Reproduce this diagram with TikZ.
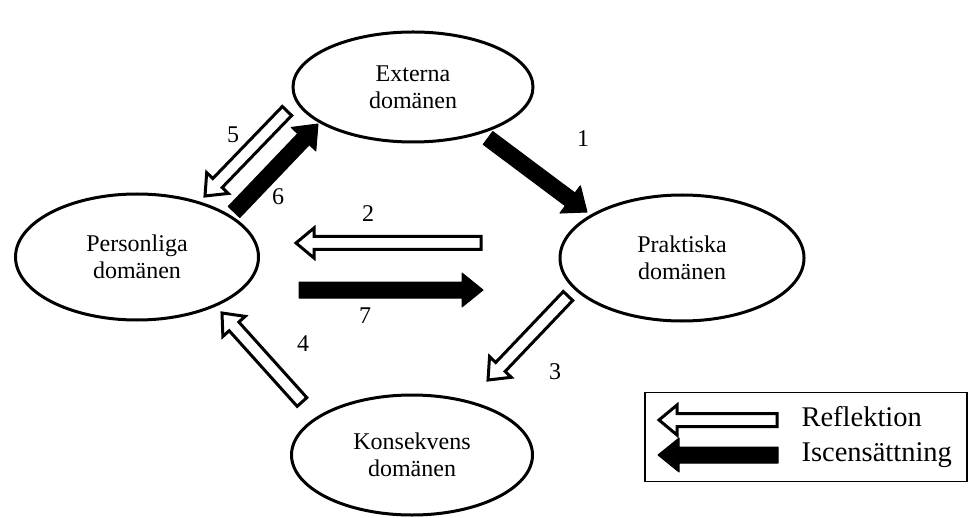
\documentclass[tikz,border=0pt]{standalone}
\usepackage{fontspec}
\setmainfont{Liberation Serif}
\usetikzlibrary{calc,shapes.geometric}
\tikzset{
  domainbox/.style={ellipse,draw,line width=3pt,inner sep=0pt,align=center,
    font=\fontsize{24}{27}\selectfont},
  numlabel/.style={font=\fontsize{24}{27}\selectfont},
  whitearrow/.style={draw,fill=white,line width=3pt,line join=miter},
  blackarrow/.style={draw,fill=black,line width=1pt,line join=round},
  legtext/.style={anchor=base west,font=\fontsize{28.5}{31}\selectfont},
}
% #1 style, #2 tail coord, #3 tip coord, #4 shaft half width, #5 head half width, #6 head length
\newcommand\fatarrow[6]{%
  \coordinate (hb) at ($(#3)!#6!(#2)$);
  \path[#1] ($(#2)!#4!90:(#3)$) -- ($(hb)!#4!-90:(#2)$) -- ($(hb)!#5!-90:(#2)$)
    -- (#3) -- ($(hb)!#5!90:(#2)$) -- ($(hb)!#4!90:(#2)$)
    -- ($(#2)!#4!-90:(#3)$) -- cycle;
}
\newcommand\warrow[2]{\fatarrow{whitearrow}{#1}{#2}{6.5pt}{15pt}{18pt}}
\newcommand\barrow[2]{\fatarrow{blackarrow}{#1}{#2}{8pt}{17pt}{21pt}}
\begin{document}
\begin{tikzpicture}[x=1pt,y=-1pt]
\useasboundingbox (0,0) rectangle (973,518);
% domains
\node[domainbox,minimum width=240pt,minimum height=110pt] (ext) at (413,87) {Externa\\domänen};
\node[domainbox,minimum width=243pt,minimum height=126pt] (pers) at (137,257) {Personliga\\domänen};
\node[domainbox,minimum width=244pt,minimum height=126pt] (prak) at (682,258) {Praktiska\\domänen};
\node[domainbox,minimum width=241pt,minimum height=120pt] (kons) at (412,455) {Konsekvens\\domänen};
% arrow end points
\coordinate (a1t) at (488,138); \coordinate (a1h) at (587,212);
\coordinate (a2t) at (481,243); \coordinate (a2h) at (296,243);
\coordinate (a7t) at (299,290); \coordinate (a7h) at (483,290);
\coordinate (a3t) at (568,296); \coordinate (a3h) at (488,380);
\coordinate (a4t) at (302,402); \coordinate (a4h) at (222,313);
\coordinate (a5t) at (287,111); \coordinate (a5h) at (205,196);
\coordinate (a6t) at (234,212); \coordinate (a6h) at (318,124);
\barrow{a1t}{a1h}
\warrow{a2t}{a2h}
\barrow{a7t}{a7h}
\warrow{a3t}{a3h}
\warrow{a4t}{a4h}
\warrow{a5t}{a5h}
\barrow{a6t}{a6h}
% numbers
\node[numlabel] (n1) at (583,139) {1};
\node[numlabel] (n2) at (368,214) {2};
\node[numlabel] (n3) at (555,372) {3};
\node[numlabel] (n4) at (303,344) {4};
\node[numlabel] (n5) at (233,135) {5};
\node[numlabel] (n6) at (278,197) {6};
\node[numlabel] (n7) at (365,316) {7};
% legend
\node[draw,line width=1.5pt,minimum width=322pt,minimum height=89pt,inner sep=0pt] (leg) at (806,437) {};
\coordinate (l1t) at (777,420); \coordinate (l1h) at (659,420);
\coordinate (l2t) at (778,455); \coordinate (l2h) at (658,455);
\warrow{l1t}{l1h}
\barrow{l2t}{l2h}
\node[legtext] (lr) at (798,426) {Reflektion};
\node[legtext] (li) at (798,461) {Iscensättning};
\end{tikzpicture}
\end{document}
